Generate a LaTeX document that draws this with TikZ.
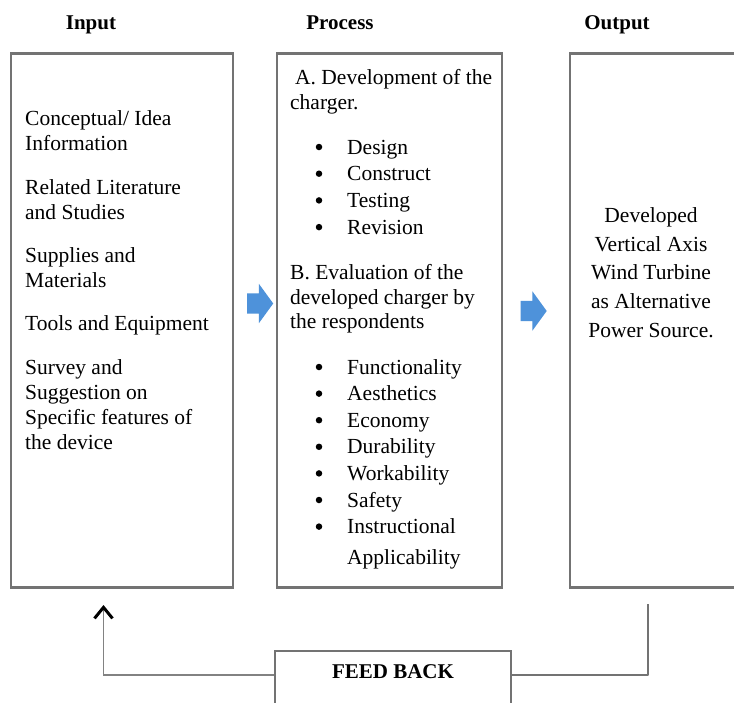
\documentclass[tikz,border=0pt]{standalone}
\usepackage{fontspec}
\setmainfont{Liberation Serif}
\usetikzlibrary{arrows.meta,shapes.arrows,calc}
\definecolor{arrowblue}{RGB}{78,146,218}
\definecolor{boxgray}{RGB}{115,115,115}
\definecolor{linegray}{RGB}{130,130,130}
\begin{document}
\begin{tikzpicture}[x=1pt,y=-1pt,
  frame/.style={draw=boxgray,line width=2.2pt,inner sep=0pt},
  txt/.style={font=\fontsize{21.5}{25}\selectfont,inner sep=0pt,anchor=base west},
  ctxt/.style={font=\fontsize{21.5}{25}\selectfont,inner sep=0pt,anchor=base},
  bul/.style={circle,fill=black,inner sep=0pt,minimum size=6.5pt},
  hdr/.style={font=\fontsize{21}{25}\selectfont\bfseries,inner sep=0pt,anchor=base},
  bluearrow/.style={single arrow,fill=arrowblue,draw=none,inner xsep=0pt,inner ysep=10pt,
    minimum height=26pt,single arrow head extend=9.5pt,
    single arrow tip angle=108},
  fbline/.style={draw=linegray,line width=1.4pt},
  outline/.style={draw=boxgray,line width=2.2pt}]
\clip (0,0) rectangle (734,702);
\fill[white] (0,0) rectangle (734,702);

% headers
\node[hdr] (hin) at (91,29) {Input};
\node[hdr] (hproc) at (340,29) {Process};
\node[hdr] (hout) at (617,29) {Output};

% boxes
\node[frame,minimum width=222pt,minimum height=534pt] (inbox) at (122,320.5) {};
\node[frame,minimum width=225pt,minimum height=534pt] (procbox) at (389.5,320.5) {};
\node[frame,minimum width=168pt,minimum height=534pt] (outbox) at (654,320.5) {};
\node[frame,minimum width=236pt,minimum height=80pt] (fb) at (393,691) {};

% input text
\node[txt] (i1) at (25,125) {Conceptual/ Idea};
\node[txt] (i2) at (25,150) {Information};
\node[txt] (i3) at (25,194) {Related Literature};
\node[txt] (i4) at (25,219) {and Studies};
\node[txt] (i5) at (25,262) {Supplies and};
\node[txt] (i6) at (25,287) {Materials};
\node[txt] (i7) at (25,330) {Tools and Equipment};
\node[txt] (i8) at (25,374) {Survey and};
\node[txt] (i9) at (25,399) {Suggestion on};
\node[txt] (i10) at (25,424) {Specific features of};
\node[txt] (i11) at (25,449) {the device};

% process text
\node[txt] (pa1) at (295,84) {A. Development of the};
\node[txt] (pa2) at (290,109) {charger.};
\foreach \t [count=\k] in {Design,Construct,Testing,Revision}{
  \pgfmathsetmacro{\yy}{154+(\k-1)*26.7}
  \node[bul] (ba\k) at (319,\yy-7) {};
  \node[txt] (la\k) at (347,\yy) {\t};
}
\node[txt] (pb1) at (290,279) {B. Evaluation of the};
\node[txt] (pb2) at (290,304) {developed charger by};
\node[txt] (pb3) at (290,328) {the respondents};
\foreach \t [count=\k] in {Functionality,Aesthetics,Economy,Durability,Workability,Safety,Instructional}{
  \pgfmathsetmacro{\yy}{374+(\k-1)*26.6}
  \node[bul] (bb\k) at (319,\yy-7) {};
  \node[txt] (lb\k) at (347,\yy) {\t};
}
\node[txt] (lb8) at (347,564) {Applicability};

% output text
\node[ctxt] (o1) at (651,222) {Developed};
\node[ctxt] (o2) at (651,251) {Vertical Axis};
\node[ctxt] (o3) at (651,279) {Wind Turbine};
\node[ctxt] (o4) at (651,308) {as Alternative};
\node[ctxt] (o5) at (651,337) {Power Source.};

% feedback
\node[hdr] (fbt) at (393,678) {FEED BACK};

% blue arrows
\node[bluearrow] (a1) at (256.5,303.5) {};
\node[bluearrow] (a2) at (530,311) {};

% feedback loop
\coordinate (tap) at (648,604);
\coordinate (fbin) at ($(fb.north east)+(0,25)$);
\coordinate (fbout) at ($(fb.north west)+(0,25)$);
\coordinate (up) at (103.5,605);
\draw[outline,line join=round] (tap) |- (fbin);
\draw[fbline,-{Straight Barb[color=black,length=11pt,width=18pt,line width=3pt]}] (fbout) -| (up);
\end{tikzpicture}
\end{document}
